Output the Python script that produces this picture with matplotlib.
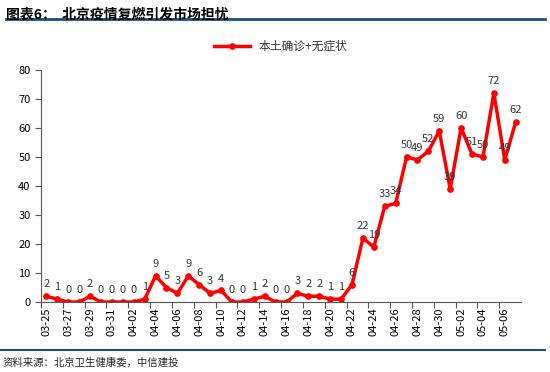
import matplotlib.pyplot as plt
import numpy as np

plt.rcParams['font.family'] = ['Noto Sans CJK SC', 'DejaVu Sans']

# daily local cases (confirmed + asymptomatic), 03-25 .. 05-07
dates = ['03-25', '03-26', '03-27', '03-28', '03-29', '03-30', '03-31',
         '04-01', '04-02', '04-03', '04-04', '04-05', '04-06', '04-07',
         '04-08', '04-09', '04-10', '04-11', '04-12', '04-13', '04-14',
         '04-15', '04-16', '04-17', '04-18', '04-19', '04-20', '04-21',
         '04-22', '04-23', '04-24', '04-25', '04-26', '04-27', '04-28',
         '04-29', '04-30', '05-01', '05-02', '05-03', '05-04', '05-05',
         '05-06', '05-07']
cases = [2, 1, 0, 0, 2, 0, 0, 0, 0, 1, 9, 5, 3, 9, 6, 3, 4, 0, 0, 1, 2, 0,
         0, 3, 2, 2, 1, 1, 6, 22, 19, 33, 34, 50, 49, 52, 59, 39, 60, 51, 50,
         72, 49, 62]

fig = plt.figure(figsize=(5.5, 3.72), dpi=100)
ax = fig.add_axes([0.0745, 0.188, 0.873, 0.624])

x = np.arange(len(dates))
ax.plot(x, cases, color='#FF0000', lw=2.5, marker='o', ms=3.8,
        label='本土确诊+无症状')
for xi, v in zip(x, cases):
    ax.annotate(str(v), (xi, v), xytext=(0, 5), textcoords='offset points',
                ha='center', va='bottom', fontsize=8, color='#333333')

ax.set_xlim(-0.5, len(dates) - 0.5)
ax.set_ylim(0, 80)
ax.set_yticks(range(0, 81, 10))
ax.set_xticks(x[::2] - 0.5)
ax.set_xticklabels([])
ax.set_xticks(x[::2], minor=True)
ax.set_xticklabels(dates[::2], minor=True, rotation=90, fontsize=8)
ax.tick_params(axis='x', which='minor', length=0, pad=4)
ax.tick_params(axis='x', which='major', length=4, color='#555555')
ax.tick_params(axis='y', labelsize=8, length=4, color='#555555')
for s in ['top', 'right']:
    ax.spines[s].set_visible(False)
for s in ['left', 'bottom']:
    ax.spines[s].set_color('#555555')

ax.legend(loc='upper center', bbox_to_anchor=(0.5, 1.175), frameon=False,
          fontsize=8.5, handlelength=3, labelcolor='#333333')

fig.text(0.01, 0.98, '图表6：  北京疫情复燃引发市场担忧', fontsize=10,
         fontweight='bold', va='top', ha='left')
fig.add_artist(plt.Line2D([0.01, 0.99], [0.948, 0.948], color='#1F4E79',
                          lw=2, transform=fig.transFigure))
fig.add_artist(plt.Line2D([0.0, 0.99], [0.058, 0.058], color='#1F4E79',
                          lw=1.5, transform=fig.transFigure))
fig.text(0.005, 0.025, '资料来源：北京卫生健康委，中信建投', fontsize=7.5,
         style='italic', va='center', ha='left', color='#222222')

fig.savefig('out.png', dpi=100)
